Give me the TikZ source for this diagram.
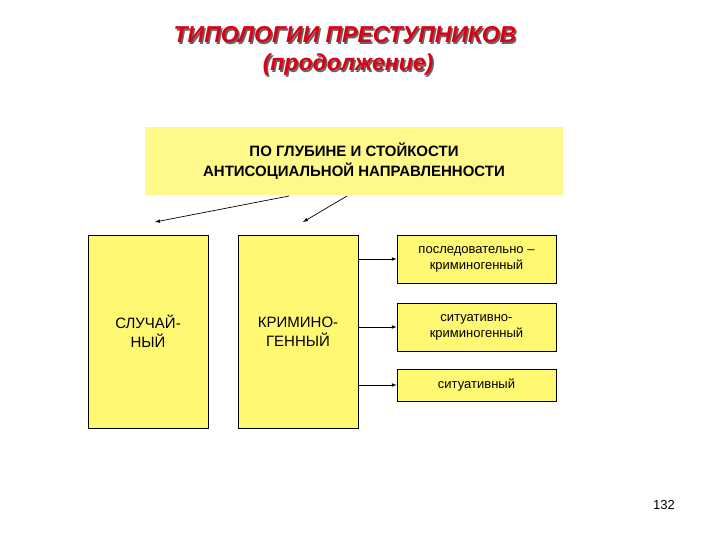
\documentclass[tikz,border=0pt]{standalone}
\usepackage{fontspec}
\setmainfont{Liberation Sans}
\begin{document}
\begin{tikzpicture}[x=1pt,y=-1pt,
  box/.style={draw=black,fill=yellow!55,line width=0.6pt,align=center,inner sep=0pt,font=\fontsize{13}{16}\selectfont},
  ttl/.style={font=\fontsize{23}{27}\selectfont\bfseries\itshape},
  arr/.style={-latex,line width=0.7pt}]
\useasboundingbox (0,0) rectangle (720,540);
\definecolor{titred}{RGB}{220,0,20}
\node (sh1) [ttl,text=black!60] at (346.5,36.5) {ТИПОЛОГИИ ПРЕСТУПНИКОВ};
\node (sh2) [ttl,text=black!60] at (349.5,66.5) {(продолжение)};
\node (t1) [ttl,text=titred] at (345,35) {ТИПОЛОГИИ ПРЕСТУПНИКОВ};
\node (t2) [ttl,text=titred] at (348,65) {(продолжение)};
\node (top) [fill=yellow!45,minimum width=418pt,minimum height=68pt,align=center,font=\fontsize{15}{20}\selectfont\bfseries] at (354,161) {ПО ГЛУБИНЕ И СТОЙКОСТИ\\АНТИСОЦИАЛЬНОЙ НАПРАВЛЕННОСТИ};
\node (a) [box,font=\fontsize{15}{19}\selectfont,minimum width=120pt,minimum height=193pt] at (148,331.5) {СЛУЧАЙ-\\НЫЙ};
\node (b) [box,font=\fontsize{15}{19}\selectfont,minimum width=120pt,minimum height=193pt] at (298,331.5) {КРИМИНО-\\ГЕННЫЙ};
\node (c1) [box,minimum width=159pt,minimum height=48pt] at (476.5,259) {последовательно –\\криминогенный};
\node (c2) [box,minimum width=159pt,minimum height=48pt] at (476.5,327) {ситуативно-\\криминогенный};
\node (c3) [box,minimum width=159pt,minimum height=32pt] at (476.5,385) {ситуативный};
\coordinate (s1) at (289,196); \coordinate (e1) at (155,222);
\coordinate (s2) at (347,196); \coordinate (e2) at (303,222);
\draw[arr] (s1) -- (e1);
\draw[arr] (s2) -- (e2);
\draw[arr] (b.east |- c1.west) -- (c1.west);
\draw[arr] (b.east |- c2.west) -- (c2.west);
\draw[arr] (b.east |- c3.west) -- (c3.west);
\node (pg) [font=\fontsize{13}{15}\selectfont] at (664,505) {132};
\end{tikzpicture}
\end{document}
